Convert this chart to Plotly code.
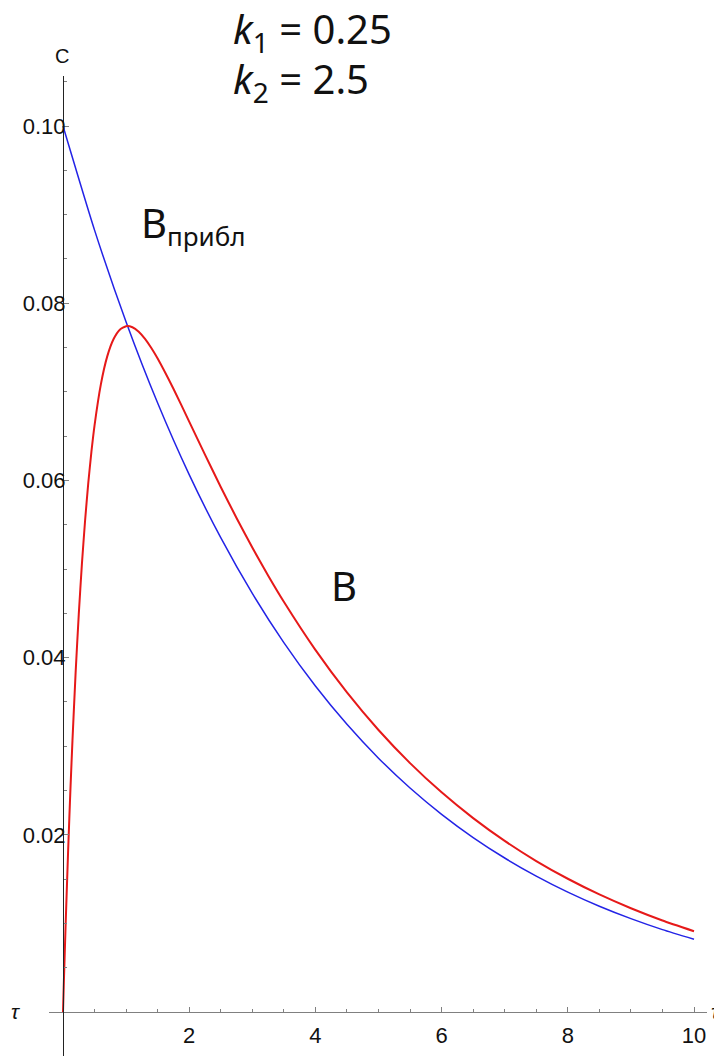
import plotly.graph_objects as go

# ---- data ----
t_red = [0, 0.01, 0.02, 0.03, 0.05, 0.08, 0.1, 0.12, 0.15, 0.2, 0.25, 0.3, 0.35,
         0.4, 0.45, 0.5, 0.6, 0.7, 0.8, 0.9, 1.0, 1.1, 1.2, 1.3, 1.4, 1.5, 1.75,
         2, 2.25, 2.5, 2.75, 3, 3.25, 3.5, 4, 4.5, 5, 5.5, 6, 6.5, 7, 7.5, 8,
         8.5, 9, 9.5, 10]
c_red = [0.0, 0.00247, 0.00486, 0.00720, 0.01168, 0.01794, 0.02183, 0.02552,
         0.03066, 0.03830, 0.04491, 0.05060, 0.05548, 0.05966, 0.06322, 0.06622,
         0.07084, 0.07397, 0.07593, 0.07701, 0.07741, 0.07729, 0.07678, 0.07597,
         0.07494, 0.07375, 0.07034, 0.06664, 0.06291, 0.05926, 0.05576, 0.05242,
         0.04927, 0.04630, 0.04087, 0.03607, 0.03183, 0.02809, 0.02479, 0.02188,
         0.01931, 0.01704, 0.01504, 0.01327, 0.01171, 0.01033, 0.00912]

t_blue = [0, 0.5, 1, 1.5, 2, 2.5, 3, 3.5, 4, 4.5, 5, 5.5, 6, 6.5, 7, 7.5, 8,
          8.5, 9, 9.5, 10]
c_blue = [0.1, 0.08825, 0.07788, 0.06873, 0.06065, 0.05353, 0.04724, 0.04169,
          0.03679, 0.03247, 0.02865, 0.02528, 0.02231, 0.01969, 0.01738,
          0.01534, 0.01353, 0.01194, 0.01054, 0.0093, 0.00821]

x_tickvals = [2, 4, 6, 8, 10]
x_ticktext = ["2", "4", "6", "8", "10"]
x_minor = [0.5, 1, 1.5, 2.5, 3, 3.5, 4.5, 5, 5.5, 6.5, 7, 7.5, 8.5, 9, 9.5]
y_tickvals = [0.02, 0.04, 0.06, 0.08, 0.10]
y_ticktext = ["0.02", "0.04", "0.06", "0.08", "0.10"]
y_minor = [0.005, 0.01, 0.015, 0.025, 0.03, 0.035, 0.045, 0.05, 0.055,
           0.065, 0.07, 0.075, 0.085, 0.09, 0.095, 0.105]

# page offset (browser default body margin)
OFF = 8
W, H = 722 - OFF, 1056 - OFF
X0, XS = 63.0, 63.1      # page pixel of t=0, px per unit
Y0, YS = 1012.0, 8860.0  # page pixel of c=0, px per unit


def px(xp):
    return (xp - OFF) / W


def py(yp):
    return 1 - (yp - OFF) / H


fig = go.Figure()
fig.add_trace(go.Scatter(x=t_blue, y=c_blue, mode="lines",
                         line=dict(color="#2323e6", width=1.5, shape="spline", smoothing=0.6),
                         hoverinfo="skip", showlegend=False))
fig.add_trace(go.Scatter(x=t_red, y=c_red, mode="lines",
                         line=dict(color="#e61919", width=2, shape="spline", smoothing=0.5),
                         hoverinfo="skip", showlegend=False))

xl, xr = 49, 707
yt, yb = 76, 1056
tick_font = dict(family="Liberation Sans, Arial, sans-serif", size=22, color="#111")

fig.update_layout(
    width=W, height=H,
    margin=dict(l=0, r=0, t=0, b=0, autoexpand=False),
    paper_bgcolor="white", plot_bgcolor="white",
    xaxis=dict(
        domain=[px(xl), px(xr)],
        range=[(xl - X0) / XS, (xr - X0) / XS],
        anchor="free", position=py(Y0), automargin=False,
        showline=True, linecolor="#808080", linewidth=1.2,
        showgrid=False, zeroline=False,
        tickmode="array", tickvals=x_tickvals, ticktext=x_ticktext,
        ticks="inside", ticklen=5, tickcolor="#808080", tickwidth=1,
        ticklabelstandoff=3,
        minor=dict(tickmode="array", tickvals=x_minor, ticks="inside",
                   ticklen=3, tickcolor="#808080", tickwidth=1, showgrid=False),
        tickfont=tick_font,
    ),
    yaxis=dict(
        domain=[0, py(yt)],
        range=[(Y0 - yb) / YS, (Y0 - yt) / YS],
        anchor="free", position=px(X0), automargin=False,
        showline=True, linecolor="#222", linewidth=1.2,
        showgrid=False, zeroline=False,
        tickmode="array", tickvals=y_tickvals, ticktext=y_ticktext,
        ticks="inside", ticklen=5, tickcolor="#808080", tickwidth=1,
        ticklabelstandoff=-7,
        minor=dict(tickmode="array", tickvals=y_minor, ticks="inside",
                   ticklen=3, tickcolor="#808080", tickwidth=1, showgrid=False),
        tickfont=tick_font,
    ),
)

big = dict(family="Noto Sans, sans-serif", size=40, color="#111")
annots = [
    dict(text="<i>k</i><sub>1</sub> = 0.25", x=px(231), y=py(31), xanchor="left", yanchor="middle",
         height=44, valign="middle", font=big),
    dict(text="<i>k</i><sub>2</sub> = 2.5", x=px(231), y=py(81), xanchor="left", yanchor="middle",
         height=44, valign="middle", font=big),
    dict(text="B<sub><span style='font-size:26px'>прибл</span></sub>", x=px(139), y=py(225),
         xanchor="left", yanchor="middle", font=big),
    dict(text="B", x=px(344), y=py(585), xanchor="center", yanchor="middle", font=big),
    dict(text="C", x=px(62), y=py(56), xanchor="center", yanchor="middle",
         font=dict(family="Liberation Sans, Arial, sans-serif", size=20, color="#111")),
    dict(text="<i>τ</i>", x=px(9), y=py(1011), xanchor="left", yanchor="middle",
         font=dict(family="Liberation Sans, Arial, sans-serif", size=21, color="#111")),
    dict(text="<i>τ</i>", x=px(709), y=py(1011), xanchor="left", yanchor="middle",
         font=dict(family="Liberation Sans, Arial, sans-serif", size=21, color="#111")),
]
for a in annots:
    fig.add_annotation(xref="paper", yref="paper", showarrow=False, **a)

fig.write_html("out.html")
